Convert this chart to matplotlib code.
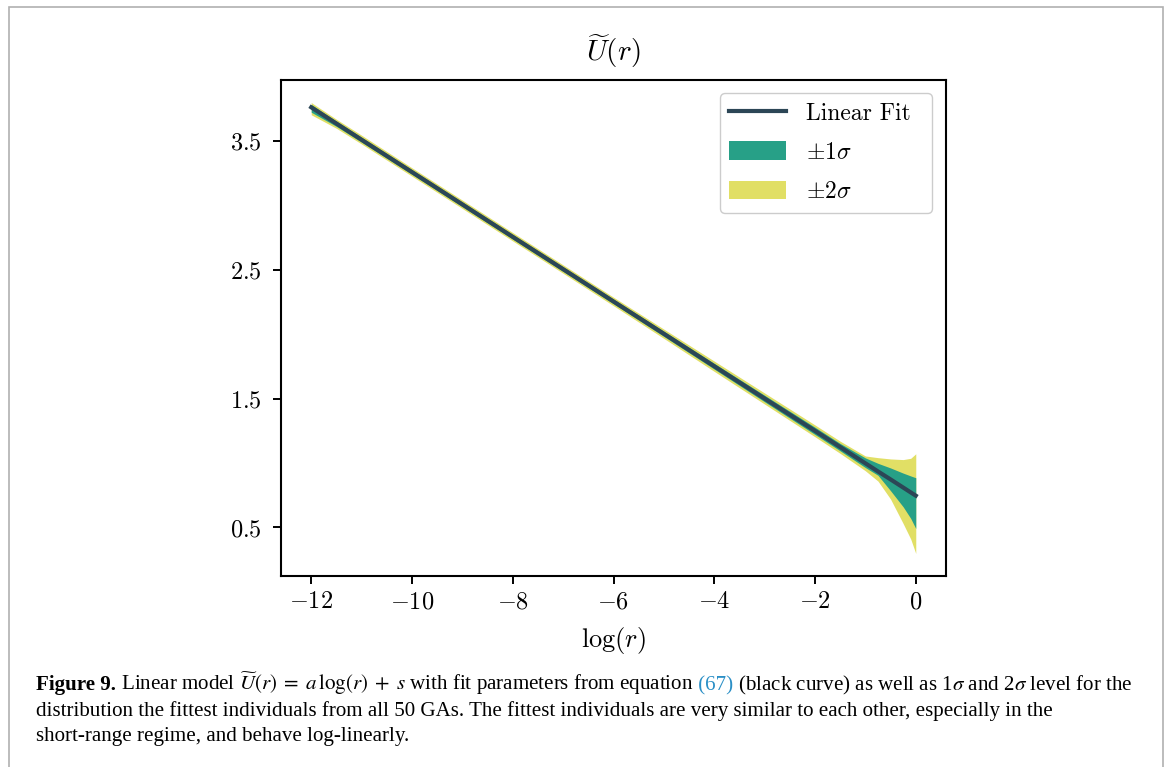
import matplotlib
matplotlib.use('Agg')
import matplotlib.pyplot as plt
from matplotlib.patches import Rectangle

plt.rcParams['font.family'] = 'serif'
plt.rcParams['font.serif'] = ['cmr10']
plt.rcParams['mathtext.fontset'] = 'cm'
plt.rcParams['axes.formatter.use_mathtext'] = True

# log(r) grid, linear fit and the 1/2 sigma envelopes of the fittest individuals
log_r = [-12, -11.5, -11, -10, -9, -8, -7, -6, -5, -4, -3, -2, -1.5,
         -1, -0.75, -0.5, -0.25, -0.1, 0]
fit = [3.763, 3.637, 3.511, 3.260, 3.009, 2.757, 2.506, 2.255, 2.004, 1.752,
       1.501, 1.250, 1.124, 0.998, 0.935, 0.873, 0.810, 0.772, 0.747]
sig1_hi = [3.785, 3.655, 3.530, 3.278, 3.027, 2.775, 2.524, 2.273, 2.024, 1.774,
           1.526, 1.278, 1.152, 1.040, 0.998, 0.962, 0.922, 0.900, 0.886]
sig1_lo = [3.725, 3.615, 3.492, 3.242, 2.991, 2.739, 2.488, 2.237, 1.984, 1.730,
           1.476, 1.222, 1.095, 0.965, 0.905, 0.785, 0.660, 0.570, 0.492]
sig2_hi = [3.800, 3.670, 3.546, 3.293, 3.042, 2.790, 2.539, 2.288, 2.040, 1.792,
           1.544, 1.296, 1.170, 1.055, 1.042, 1.032, 1.027, 1.037, 1.072]
sig2_lo = [3.705, 3.600, 3.478, 3.228, 2.977, 2.725, 2.474, 2.222, 1.968, 1.712,
           1.458, 1.204, 1.075, 0.940, 0.860, 0.720, 0.530, 0.410, 0.298]

W, H = 1171, 767
fig = plt.figure(figsize=(W / 100, H / 100), dpi=100)
ax = fig.add_axes([281 / W, 1 - 576 / H, 665 / W, 496 / H])

ax.fill_between(log_r, sig2_lo, sig2_hi, color='#e1df65', lw=0, label=r'$\pm 2\sigma$')
ax.fill_between(log_r, sig1_lo, sig1_hi, color='#27a087', lw=0, label=r'$\pm 1\sigma$')
ax.plot(log_r, fit, color='#2c4656', lw=3, label='Linear Fit')

ax.set_xticks([-12, -10, -8, -6, -4, -2, 0])
ax.set_yticks([0.5, 1.5, 2.5, 3.5])
ax.tick_params(labelsize=17.5, width=1.4, length=6, pad=5)
ax.tick_params(axis='y', pad=8)
for s in ax.spines.values():
    s.set_linewidth(1.5)
ax.set_title(r'$\widetilde{U}(r)$', fontsize=21, pad=14)
ax.set_xlabel(r'$\log(r)$', fontsize=19, labelpad=8)

# legend stretched over a fixed box in the upper right corner
h, l = ax.get_legend_handles_labels()
ax.legend(h[::-1], l[::-1], loc='upper left', bbox_to_anchor=(0.66, 0.5, 0.319, 0.474),
          mode='expand', borderaxespad=0, fontsize=17, handlelength=2.4,
          handleheight=0.85, labelspacing=0.7, handletextpad=0.85,
          fancybox=True, framealpha=1, edgecolor='#cccccc')

# page border
fig.add_artist(Rectangle((8.5 / W, -0.05), 1154 / W, 1.05 - 7 / H,
                         transform=fig.transFigure, fill=False,
                         edgecolor='#b0b0b0', lw=1.2))

# caption, laid out piece by piece along each baseline
cap_font = dict(family='Liberation Serif', fontsize=15.1)
lines = [
    [('Figure 9.', dict(weight='bold')),
     (r' Linear model $\widetilde{U}(r)\;=\;a\,\log(r)\;+\;s$ with fit parameters from equation', {}),
     (' (67)', dict(color='#2a8fc6')),
     (r' (black curve) as well as 1$\sigma$ and 2$\sigma$ level for the', {})],
    [('distribution the fittest individuals from all 50 GAs. The fittest individuals '
      'are very similar to each other, especially in the', {})],
    [('short-range regime, and behave log-linearly.', {})],
]
baselines = [690, 716, 741]
fig.canvas.draw()
r = fig.canvas.get_renderer()
for pieces, yb in zip(lines, baselines):
    x = 36
    for txt, kw in pieces:
        t = fig.text(x / W, 1 - yb / H, txt, va='baseline', ha='left',
                     math_fontfamily='stix', color=kw.get('color', 'black'),
                     weight=kw.get('weight', 'normal'), **cap_font)
        x += t.get_window_extent(r).width

fig.savefig('out.png', dpi=100)
